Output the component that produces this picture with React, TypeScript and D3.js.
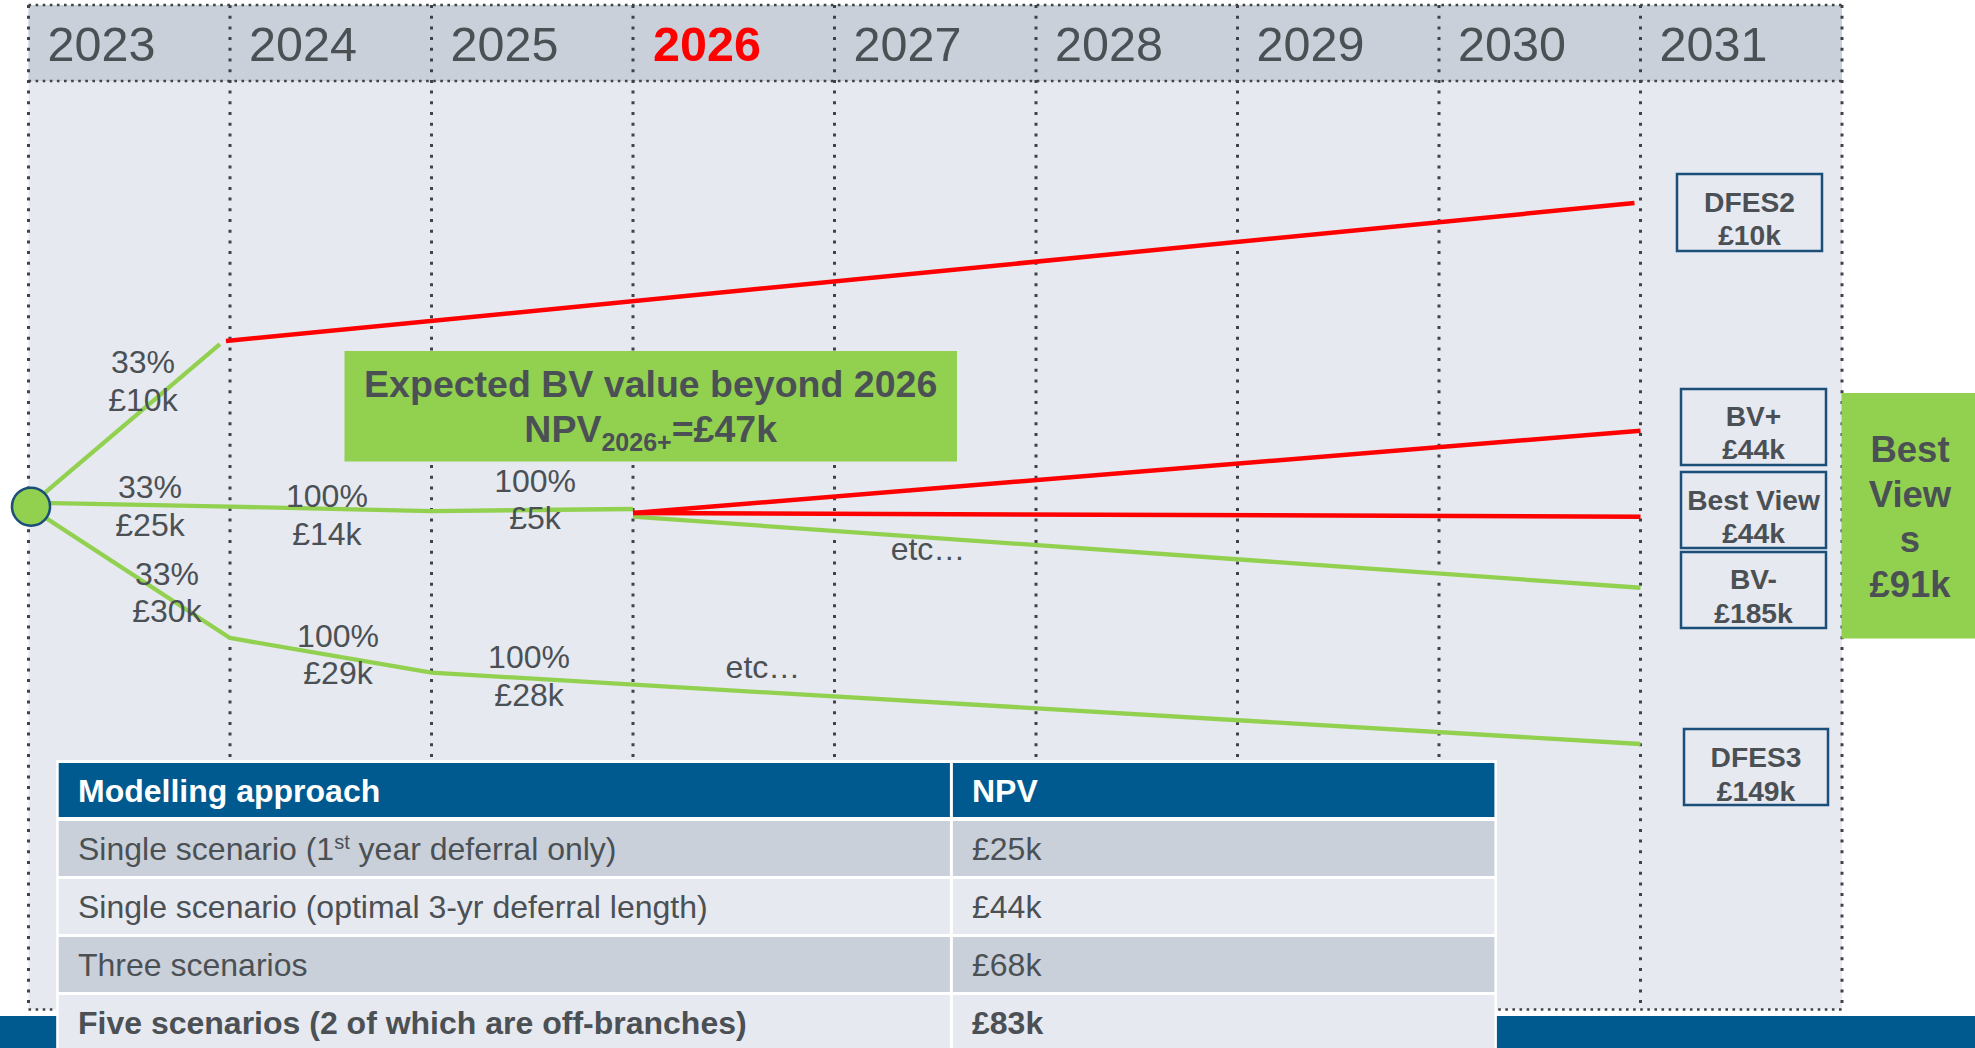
import React from 'react';
import * as d3 from 'd3';

// ---------- DATA ----------
const years = [2023, 2024, 2025, 2026, 2027, 2028, 2029, 2030, 2031];
const highlightYear = 2026;

// Decision-tree branches: [year, level]; level = relative vertical position (0 = top, 100 = bottom)
const rootNode: [number, number] = [2023, 45.77];
const greenBranches: [number, number][][] = [
  [[2023, 45.77], [2023.95, 28.3]],
  [[2023, 45.34], [2024, 45.77], [2025, 46.24], [2026, 46.02]],
  [[2023, 45.77], [2024, 59.89], [2025, 63.62], [2031, 71.29]],
  [[2026, 46.85], [2031, 54.49]],
];
const redBranches: [number, number][][] = [
  [[2023.98, 27.96], [2030.97, 13.12]],
  [[2026, 46.45], [2031, 37.6]],
  [[2026, 46.45], [2031, 46.85]],
];

const branchProbs = ['33%', '33%', '33%', '100%', '100%', '100%', '100%'];
const branchValues = ['£10k', '£25k', '£30k', '£14k', '£5k', '£29k', '£28k'];
const etcLabel = 'etc…';

const scenarioNames = ['DFES2', 'BV+', 'Best View', 'BV-', 'DFES3'];
const scenarioValues = ['£10k', '£44k', '£44k', '£185k', '£149k'];

const expectedTitle = 'Expected BV value beyond 2026';
const expectedSub = '2026+';
const expectedValue = '£47k';

const bestViewsLines = ['Best', 'View', 's', '£91k'];

const tableHeaders = ['Modelling approach', 'NPV'];
const approaches = [
  'Single scenario (1st year deferral only)',
  'Single scenario (optimal 3-yr deferral length)',
  'Three scenarios',
  'Five scenarios (2 of which are off-branches)',
];
const npvs = ['£25k', '£44k', '£68k', '£83k'];

// ---------- LAYOUT ----------
const W = 1975;
const H = 1048;
const FONT = '"Liberation Sans", Arial, Helvetica, sans-serif';
const TEXT = '#4B5055';
const GREEN = '#92D050';
const RED = '#FF0000';
const NAVY = '#1B4E78';
const BLUE = '#005A8F';
const GRID_BG = '#E6E9EF';
const HEADER_BG = '#C9D0DA';

// label layout: [x in year units, level of first line baseline]
const labelPos: [number, number][] = [
  [2023.568, 31.4],
  [2023.603, 44.84],
  [2023.687, 54.19],
  [2024.481, 45.81],
  [2025.514, 44.16],
  [2024.536, 60.83],
  [2025.484, 63.12],
];
const etcPos: [number, number][] = [
  [2027.464, 51.51],
  [2026.645, 64.19],
];
// scenario box layout (pixels)
const boxLayout = [
  { x: 1677, y: 174, w: 145, h: 77, b1: 212, b2: 245 },
  { x: 1681, y: 389, w: 145, h: 76, b1: 426, b2: 459 },
  { x: 1681, y: 472, w: 145, h: 76, b1: 510, b2: 543 },
  { x: 1681, y: 552, w: 145, h: 76, b1: 589, b2: 623 },
  { x: 1684, y: 729, w: 144, h: 76, b1: 767, b2: 801 },
];

export default function App() {
  const gridLeft = 28.5;
  const colW = 201.5;
  const gridTop = 5;
  const headerBottom = 81;
  const gridBottom = 1009.5;

  const x = d3.scaleLinear().domain([2023, 2032]).range([gridLeft, gridLeft + 9 * colW]);
  const y = d3.scaleLinear().domain([0, 100]).range([81, 1011]);
  const line = d3
    .line<[number, number]>()
    .x((d) => x(d[0]))
    .y((d) => y(d[1]));

  const gridRight = x(2032);
  const vDot = {
    stroke: '#3F4347',
    strokeWidth: 3,
    strokeDasharray: '3 7.7',
    fill: 'none',
  } as const;
  const hDot = {
    stroke: '#3F4347',
    strokeWidth: 2.6,
    strokeDasharray: '2.6 4.5',
    fill: 'none',
  } as const;

  // table geometry
  const tX0 = 58.7;
  const tDiv = 951.4;
  const tX1 = 1494.4;
  const headerTop = 763;
  const headerH = 54;
  const rowTop0 = 821;
  const rowPitch = 58;
  const rowH = 55;
  const tFont = 32;

  return (
    <div style={{ position: 'absolute', left: 0, top: 0, width: W, height: H, background: '#fff' }}>
      <svg width={W} height={H} style={{ display: 'block' }} fontFamily={FONT}>
        <rect x={0} y={0} width={W} height={H} fill="#fff" />
        {/* grid background */}
        <rect x={gridLeft} y={gridTop} width={gridRight - gridLeft} height={gridBottom - gridTop} fill={GRID_BG} />
        <rect x={gridLeft} y={gridTop} width={gridRight - gridLeft} height={headerBottom - gridTop} fill={HEADER_BG} />

        {/* dotted grid */}
        {years.concat([2032]).map((yr) => (
          <line key={'v' + yr} x1={x(yr)} x2={x(yr)} y1={gridTop} y2={gridBottom} style={vDot} />
        ))}
        <line x1={gridLeft} x2={gridRight} y1={gridTop} y2={gridTop} style={hDot} />
        <line x1={gridLeft} x2={gridRight} y1={headerBottom} y2={headerBottom} style={hDot} />
        <line x1={gridLeft} x2={gridRight} y1={gridBottom} y2={gridBottom} style={hDot} />

        {/* year labels */}
        {years.map((yr) => (
          <text
            key={'y' + yr}
            x={x(yr) + (yr === highlightYear ? 20 : 19)}
            y={61}
            fontSize={48.5}
            fontWeight={yr === highlightYear ? 'bold' : 'normal'}
            fill={yr === highlightYear ? RED : TEXT}
          >
            {yr}
          </text>
        ))}

        {/* branches */}
        {greenBranches.map((b, i) => (
          <path key={'g' + i} d={line(b) || ''} stroke={GREEN} strokeWidth={4.3} fill="none" strokeLinejoin="round" />
        ))}
        {redBranches.map((b, i) => (
          <path key={'r' + i} d={line(b) || ''} stroke={RED} strokeWidth={4.5} fill="none" />
        ))}
        <circle cx={x(rootNode[0]) + 2.5} cy={y(rootNode[1])} r={19} fill={GREEN} stroke={NAVY} strokeWidth={2.5} />

        {/* branch labels */}
        {branchProbs.map((p, i) => (
          <text key={'l' + i} textAnchor="middle" fontSize={32} fill={TEXT}>
            <tspan x={x(labelPos[i][0])} y={y(labelPos[i][1])}>{p}</tspan>
            <tspan x={x(labelPos[i][0])} y={y(labelPos[i][1]) + 37.5}>{branchValues[i]}</tspan>
          </text>
        ))}
        {etcPos.map((p, i) => (
          <text key={'e' + i} x={x(p[0])} y={y(p[1])} textAnchor="middle" fontSize={32} fill={TEXT}>
            {etcLabel}
          </text>
        ))}

        {/* expected BV callout */}
        <rect x={344.5} y={351} width={612.5} height={110.5} fill={GREEN} />
        <text x={650.7} y={396.5} textAnchor="middle" fontSize={37.5} fontWeight="bold" fill={TEXT}>
          {expectedTitle}
        </text>
        <text x={650.7} y={441.5} textAnchor="middle" fontSize={37.5} fontWeight="bold" fill={TEXT}>
          NPV
          <tspan fontSize={25} dy={9}>{expectedSub}</tspan>
          <tspan fontSize={37.5} dy={-9}>={expectedValue}</tspan>
        </text>

        {/* scenario boxes */}
        {scenarioNames.map((n, i) => {
          const b = boxLayout[i];
          return (
            <g key={'s' + i}>
              <rect x={b.x} y={b.y} width={b.w} height={b.h} fill={GRID_BG} stroke={NAVY} strokeWidth={2.5} />
              <text x={b.x + b.w / 2} y={b.b1} textAnchor="middle" fontSize={28.2} fontWeight="bold" fill={TEXT}>
                {n}
              </text>
              <text x={b.x + b.w / 2} y={b.b2} textAnchor="middle" fontSize={28.2} fontWeight="bold" fill={TEXT}>
                {scenarioValues[i]}
              </text>
            </g>
          );
        })}

        {/* best views box */}
        <rect x={1841.5} y={393} width={W - 1841.5} height={245.5} fill={GREEN} />
        {bestViewsLines.map((t, i) => (
          <text key={'bv' + i} x={1910} y={462 + i * 45} textAnchor="middle" fontSize={36.5} fontWeight="bold" fill={TEXT}>
            {t}
          </text>
        ))}

        {/* bottom blue band */}
        <rect x={0} y={1016} width={W} height={H - 1016} fill={BLUE} />

        {/* table */}
        <rect x={tX0 - 2.5} y={headerTop - 3} width={tX1 - tX0 + 5} height={H - headerTop + 3} fill="#fff" />
        <rect x={tX0} y={headerTop} width={tDiv - 1.5 - tX0} height={headerH} fill={BLUE} />
        <rect x={tDiv + 1.5} y={headerTop} width={tX1 - tDiv - 1.5} height={headerH} fill={BLUE} />
        <text x={78} y={headerTop + headerH / 2 + 11.5} fontSize={tFont} fontWeight="bold" fill="#fff">
          {tableHeaders[0]}
        </text>
        <text x={972} y={headerTop + headerH / 2 + 11.5} fontSize={tFont} fontWeight="bold" fill="#fff">
          {tableHeaders[1]}
        </text>
        {approaches.map((a, i) => {
          const top = rowTop0 + i * rowPitch;
          const fill = i % 2 === 0 ? HEADER_BG : GRID_BG;
          const base = top + rowH / 2 + 11.5;
          const bold = i === approaches.length - 1;
          const supMatch = a.match(/^(.*\d)(st)( .*)$/);
          return (
            <g key={'row' + i}>
              <rect x={tX0} y={top} width={tDiv - 1.5 - tX0} height={rowH} fill={fill} />
              <rect x={tDiv + 1.5} y={top} width={tX1 - tDiv - 1.5} height={rowH} fill={fill} />
              <text x={78} y={base} fontSize={tFont} fontWeight={bold ? 'bold' : 'normal'} fill={TEXT}>
                {supMatch ? (
                  <>
                    {supMatch[1]}
                    <tspan fontSize={20} dy={-11}>{supMatch[2]}</tspan>
                    <tspan fontSize={tFont} dy={11}>{supMatch[3]}</tspan>
                  </>
                ) : (
                  a
                )}
              </text>
              <text x={972} y={base} fontSize={tFont} fontWeight={bold ? 'bold' : 'normal'} fill={TEXT}>
                {npvs[i]}
              </text>
            </g>
          );
        })}
      </svg>
    </div>
  );
}
